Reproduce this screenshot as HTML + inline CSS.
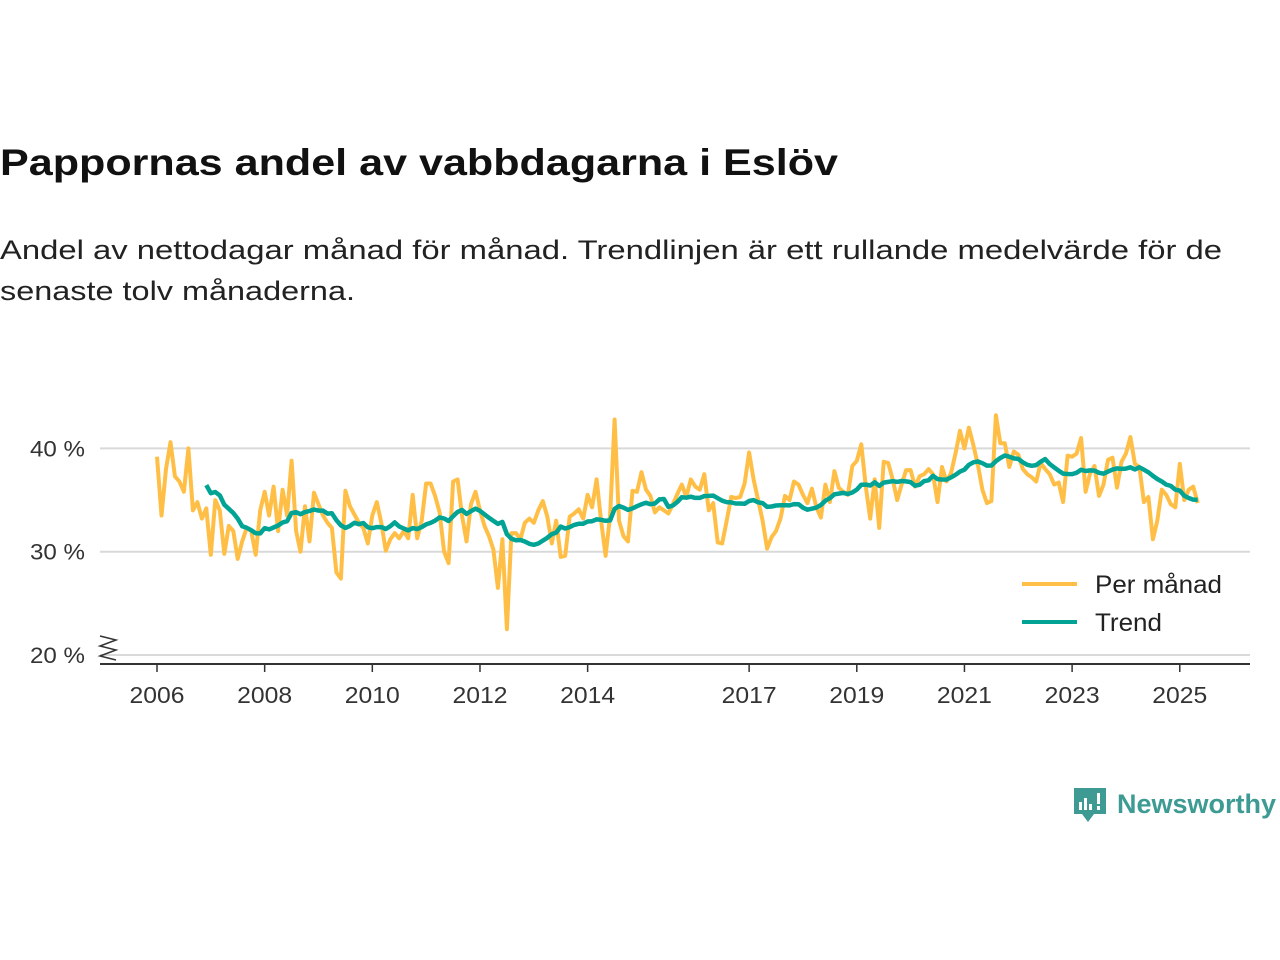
<!DOCTYPE html>
<html><head><meta charset="utf-8"><style>
body{margin:0;background:#fff;}
svg{display:block;font-family:"Liberation Sans",sans-serif;}
</style></head><body>
<svg id="c" width="1280" height="960" viewBox="0 0 1280 960">
<text x="0" y="175" font-size="37" font-weight="bold" fill="#111" textLength="838" lengthAdjust="spacingAndGlyphs">Pappornas andel av vabbdagarna i Eslöv</text>
<text x="0" y="259" font-size="27" fill="#222" textLength="1222" lengthAdjust="spacingAndGlyphs">Andel av nettodagar månad för månad. Trendlinjen är ett rullande medelvärde för de</text>
<text x="0" y="300" font-size="27" fill="#222" textLength="355" lengthAdjust="spacingAndGlyphs">senaste tolv månaderna.</text>
<g id="grid"></g>
<g id="xaxis"></g>
<g id="series"></g>
<path d="M100 636 L116 640 L100 646 L116 650 L100 656 L116 660" fill="none" stroke="#333" stroke-width="1.5"/>
<g>
<line x1="1022" y1="584" x2="1077" y2="584" stroke="#ffbf47" stroke-width="4"/>
<text x="1095" y="593" font-size="25" fill="#222" textLength="127" lengthAdjust="spacingAndGlyphs">Per månad</text>
<line x1="1022" y1="622" x2="1077" y2="622" stroke="#00a394" stroke-width="4"/>
<text x="1095" y="631" font-size="25" fill="#222" textLength="67" lengthAdjust="spacingAndGlyphs">Trend</text>
</g>
<g>
<path d="M1074 788 h32 v26 h-12 l-6 8 l-6 -8 h-8 z" fill="#3d9b93"/>
<rect x="1079" y="802" width="3" height="8" fill="#fff"/><rect x="1084" y="798" width="3" height="12" fill="#fff"/><rect x="1089" y="804" width="3" height="6" fill="#fff"/><rect x="1097" y="793" width="3" height="11" fill="#fff"/><rect x="1097" y="806" width="3" height="4" fill="#fff"/>
<text x="1117" y="813" font-size="27" font-weight="bold" fill="#3d9b93" textLength="159" lengthAdjust="spacingAndGlyphs">Newsworthy</text>
</g>
</svg>
<script>
const yTicks=[20,30,40];
const xTickYears=[2006,2008,2010,2012,2014,2017,2019,2021,2023,2025];
const monthly=[
39.2,33.5,38,40.6,37.3,36.8,35.8,40,34,34.8,33.2,34.2,
29.7,35,34,29.8,32.5,32,29.3,31,32.3,32,29.7,34,
35.8,33.5,36.3,32,36,33.5,38.8,32,30,34.4,31,35.7,
34.6,33.5,32.8,32.3,28,27.4,35.9,34.4,33.6,32.8,32.3,30.8,
33.5,34.8,32.8,30.1,31.2,31.8,31.3,32,31.3,35.5,31.3,33,
36.6,36.6,35.4,33.8,30,28.9,36.8,37,33.5,31,34.6,35.8,
34,32.5,31.5,30.2,26.5,31.2,22.5,31.8,31.8,31.2,32.8,33.2,
32.8,34,34.9,33.4,30.8,33,29.5,29.6,33.4,33.7,34.1,33.2,
35.5,34.3,37,33,29.6,33.5,42.8,33,31.5,31,35.9,35.8,
37.7,36,35.4,33.8,34.3,34,33.7,34.6,35.6,36.5,35.3,37,
36.3,36,37.5,34,34.7,30.9,30.8,33,35.3,35.2,35.3,36.6,
39.6,37,35,33,30.3,31.4,32,33.2,35.4,35,36.8,36.5,
35.5,34.7,36.1,34.3,33.3,36.5,34.8,37.8,36.2,35.8,35.5,38.3,
38.8,40.4,36.3,33.2,37,32.3,38.7,38.6,37,35,36.5,37.9,
37.9,36.3,37.3,37.5,38,37.5,34.8,38.2,36.8,37.6,39.5,41.7,
40,42,40.3,38.4,36,34.7,34.9,43.2,40.5,40.5,38.2,39.7,
39.4,38,37.5,37.2,36.8,38.6,38,37.5,36.5,36.7,34.8,39.3,
39.2,39.5,41,35.8,37.6,38.3,35.4,36.5,38.9,39.1,36.2,38.7,
39.5,41.1,38.5,38.2,34.8,35.3,31.2,33,36,35.5,34.6,34.3,
38.5,35,36,36.3,34.7];
const startYear=2006;
const X=y=>157+(y-2006)*53.83;
const Y=v=>655-(v-20)*10.33;
const NS='http://www.w3.org/2000/svg';
function mk(t,a,p){const e=document.createElementNS(NS,t);for(const k in a)e.setAttribute(k,a[k]);p.appendChild(e);return e;}
const grid=document.getElementById('grid');
yTicks.forEach(v=>{
 const l=mk('line',{x1:100,x2:1250,y1:Y(v),y2:Y(v),stroke:'#d9d9d9','stroke-width':2},grid);
 
 
 const t=mk('text',{x:85,y:Y(v)+8,'font-size':22,fill:'#333','text-anchor':'end',textLength:55,lengthAdjust:'spacingAndGlyphs'},grid);
 t.textContent=v+' %';
 
 
});
const xa=document.getElementById('xaxis');
const al=mk('line',{x1:100,x2:1250,y1:664,y2:664,stroke:'#333','stroke-width':2},xa);


xTickYears.forEach(yr=>{
 const tk=mk('line',{x1:X(yr),x2:X(yr),y1:664,y2:672,stroke:'#333','stroke-width':1.5},xa);
 
 
 const t=mk('text',{x:X(yr),y:703,'font-size':23,fill:'#333','text-anchor':'middle',textLength:55,lengthAdjust:'spacingAndGlyphs'},xa);
 t.textContent=yr;
 
 
});
const trend=monthly.map((v,i)=>i<11?null:monthly.slice(i-11,i+1).reduce((a,b)=>a+b,0)/12);
const s=document.getElementById('series');
const mp=monthly.map((v,i)=>(i?'L':'M')+X(startYear+i/12).toFixed(1)+' '+Y(v).toFixed(1)).join(' ');
const m=mk('path',{d:mp,fill:'none',stroke:'#ffbf47','stroke-width':4,'stroke-linejoin':'round'},s);


let tp='';let first=true;
trend.forEach((v,i)=>{if(v===null)return;tp+=(first?'M':'L')+X(startYear+i/12).toFixed(1)+' '+Y(v).toFixed(1)+' ';first=false;});
const tl=mk('path',{d:tp,fill:'none',stroke:'#00a394','stroke-width':4.5,'stroke-linejoin':'round'},s);


</script>
</body></html>
